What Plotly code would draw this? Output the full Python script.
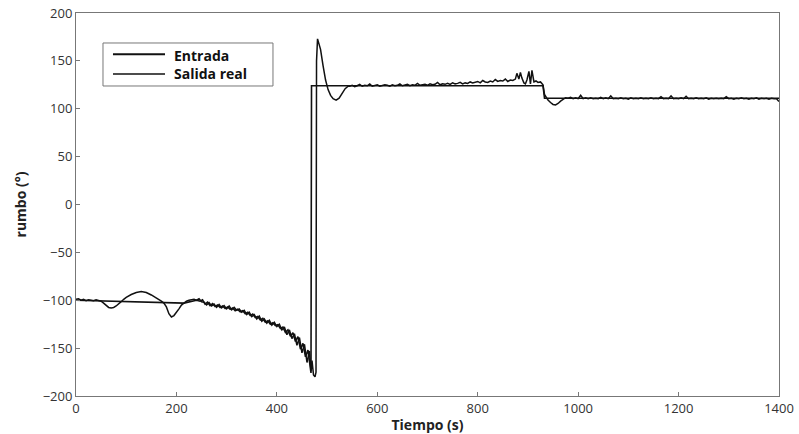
import plotly.graph_objects as go

# ---------------- data ----------------
# Salida real (actual heading)
salida_t = [
    0, 5, 10, 15, 20, 25, 30, 35, 40, 45,
    50, 55, 60, 65, 70, 75, 80, 85, 90, 95,
    100, 110, 120, 130, 140, 150, 160, 165, 170, 175,
    180, 185, 190, 195, 200, 205, 210, 215, 220, 225,
    230, 235, 240,
    245, 250, 255, 260, 265, 270, 275, 280, 285, 290,
    295, 300, 305, 310, 315, 320, 325, 330, 335, 340,
    345, 350, 355, 360, 365, 370, 375, 380, 385, 390,
    395, 400, 405, 410, 415, 420, 425, 430, 435, 440,
    445, 450, 455, 460, 465, 468, 470, 473, 476, 478,
    479, 481, 484, 487, 492, 497, 502, 507, 512, 518,
    524, 530, 536, 542,
    545, 550, 555, 560, 565, 570, 575, 580, 585, 590,
    595, 600, 605, 610, 615, 620, 625, 630, 635, 640,
    645, 650, 655, 660, 665, 670, 675, 680, 685, 690,
    695, 700, 705, 710, 715, 720, 725, 730, 735, 740,
    745, 750, 755, 760, 765, 770, 775, 780, 785, 790,
    795, 800, 805, 810, 815, 820, 825, 830, 835, 840,
    845, 850, 855, 860, 865, 870, 875,
    878, 882, 885, 888, 892, 895, 898, 902, 905, 908,
    912, 916, 920, 925, 930, 933, 936, 940, 945, 950,
    955, 960, 965, 970, 975,
    980, 985, 990, 995, 1000, 1005, 1010, 1015, 1020, 1025,
    1030, 1035, 1040, 1045, 1050, 1055, 1060, 1065, 1070, 1075,
    1080, 1085, 1090, 1095, 1100, 1105, 1110, 1115, 1120, 1125,
    1130, 1135, 1140, 1145, 1150, 1155, 1160, 1165, 1170, 1175,
    1180, 1185, 1190, 1195, 1200, 1205, 1210, 1215, 1220, 1225,
    1230, 1235, 1240, 1245, 1250, 1255, 1260, 1265, 1270, 1275,
    1280, 1285, 1290, 1295, 1300, 1305, 1310, 1315, 1320, 1325,
    1330, 1335, 1340, 1345, 1350, 1355, 1360, 1365, 1370, 1375,
    1380, 1385, 1390, 1395, 1400]
salida_v = [
    -99, -98.5, -100, -99, -100.5, -99.5, -100, -100.5, -99.5, -100,
    -101, -103, -105.5, -107.5, -108, -107.5, -106, -104, -101.5, -99,
    -97, -94, -92, -91, -92, -94.5, -97.5, -99, -101, -103,
    -107, -114, -117.5, -116, -113, -109, -105, -102.5, -101, -100,
    -99.5, -99, -100,
    -98.5, -101.5, -102, -105, -102.5, -106, -104, -107.5, -104.5, -108,
    -105.5, -109, -106, -110, -107.5, -110.5, -109, -112.5, -110.5, -115,
    -112.5, -117, -115, -119.5, -116.5, -122, -119.5, -124, -121, -126,
    -123, -127.5, -125, -131, -128, -136, -131, -140, -135, -147,
    -139, -155, -146, -165, -153, -174, -163, -178, -180, -175,
    150, 173, 168, 162, 145, 130, 120, 114, 110.5, 109,
    111, 116, 121, 123.5,
    123.5, 124.5, 123, 124, 125.5, 123.5, 124.5, 124, 126, 123.5,
    124.5, 125, 123.5, 124, 125, 124.5, 123.5, 125, 124, 124.5,
    126, 124, 124.5, 125.5, 124, 125, 124.5, 126.5, 124.5, 125,
    125.5, 124.5, 126, 125, 125.5, 127.5, 125, 126, 125.5, 126.5,
    125.5, 127, 126, 126.5, 127.5, 126, 127, 126.5, 128, 127,
    127.5, 128.5, 127, 129.5, 128, 127.5, 129, 128, 130.5, 128.5,
    129.5, 129, 131, 128.5, 130, 129.5, 131,
    137, 131, 138, 132, 127, 126, 130, 139, 126, 140,
    128, 129, 127.5, 128, 125, 115, 112, 109, 106.5, 104.5,
    104, 105.5, 108, 110, 111.5,
    111, 112, 110.5, 111.5, 110.5, 114, 110.5, 111.5, 110.5, 111.5,
    110.5, 111, 110.5, 112, 110.5, 111.5, 110.5, 113.5, 110.5, 111,
    110.5, 111.5, 110.5, 111, 110, 111.5, 110.5, 111, 110.5, 111.5,
    110.5, 111, 110.5, 111.5, 110.5, 111, 110.5, 112.5, 110.5, 111,
    110.5, 113.5, 110.5, 111, 110.5, 111.5, 110.5, 113, 110.5, 111,
    110.5, 111.5, 110.5, 111, 110.5, 111.5, 110, 111, 110.5, 111,
    110.5, 111, 110.5, 112.5, 110.5, 111, 110, 111, 110.5, 111.5,
    110.5, 111, 110, 111, 110.5, 111.5, 110, 111, 110.5, 111,
    110, 111, 110.5, 110.5, 107.5]

# Entrada (reference heading)
entrada_t = [
    0, 100, 215, 240,
    247, 252, 257, 262, 267, 272, 277, 282, 287, 292,
    297, 302, 307, 312, 317, 322, 327, 332, 337, 342,
    347, 352, 357, 362, 367, 372, 377, 382, 387, 392,
    397, 402, 407, 412, 417, 422, 427, 432, 437, 442,
    447, 452, 457, 462, 466, 468,
    469, 930, 933, 1400]
entrada_v = [
    -100, -101.5, -103, -100,
    -101, -99.5, -104, -102, -105.5, -103.5, -106.5, -105, -107.5, -106,
    -108.5, -107, -109.5, -108, -111, -109.5, -112, -111, -114, -112.5,
    -116, -114.5, -118, -117, -120.5, -119, -123, -121.5, -125, -123.5,
    -126.5, -125.5, -129.5, -128, -133.5, -131, -137.5, -134, -143, -138,
    -151, -145, -159, -152, -170, -176,
    124, 124, 111, 111]

# legend labels
legend_names = ["Entrada", "Salida real"]

# ---------------- figure ----------------
fig = go.Figure()
fig.add_trace(go.Scatter(x=entrada_t, y=entrada_v, mode="lines", name=legend_names[0],
                         line=dict(color="#111111", width=1.6), showlegend=False))
fig.add_trace(go.Scatter(x=salida_t, y=salida_v, mode="lines", name=legend_names[1],
                         line=dict(color="#111111", width=1.5), showlegend=False))

axis_common = dict(showline=True, mirror=True, linecolor="#777777", linewidth=1,
                   ticks="inside", ticklen=4, tickcolor="#777777", showgrid=False,
                   zeroline=False, automargin=False,
                   tickfont=dict(family="Open Sans", size=13, color="#333333"))

fig.update_xaxes(range=[0, 1400], tickvals=[0, 200, 400, 600, 800, 1000, 1200, 1400],
                 title=dict(text="Tiempo (s)", standoff=4,
                            font=dict(family="Open Sans", size=14, color="#222222", weight="bold")),
                 **axis_common)
fig.update_yaxes(range=[-200, 200], tickvals=[-200, -150, -100, -50, 0, 50, 100, 150, 200],
                 title=dict(text="rumbo (°)", standoff=12,
                            font=dict(family="Open Sans", size=14, color="#222222", weight="bold")),
                 **axis_common)

# manual legend box (paper coordinates of the plot area)
fig.add_shape(type="rect", xref="paper", yref="paper", x0=0.0384, x1=0.2802,
              y0=0.8094, y1=0.9217, line=dict(color="#777777", width=1), fillcolor="white",
              layer="above")
fig.add_shape(type="line", xref="paper", yref="paper", x0=0.0526, x1=0.1266,
              y0=0.8920, y1=0.8920, line=dict(color="#111111", width=2), layer="above")
fig.add_shape(type="line", xref="paper", yref="paper", x0=0.0526, x1=0.1266,
              y0=0.8407, y1=0.8407, line=dict(color="#111111", width=1.3), layer="above")
for name, yy in zip(legend_names, [0.8900, 0.8420]):
    fig.add_annotation(xref="paper", yref="paper", x=0.137, y=yy, text=name,
                       showarrow=False, xanchor="left", yanchor="middle",
                       font=dict(family="Open Sans", size=14, color="#111111", weight="bold"))

fig.update_layout(
    width=799, height=434,
    margin=dict(l=76, r=20, t=13, b=38),
    plot_bgcolor="white", paper_bgcolor="white",
    showlegend=False,
)

fig.write_html("out.html")
